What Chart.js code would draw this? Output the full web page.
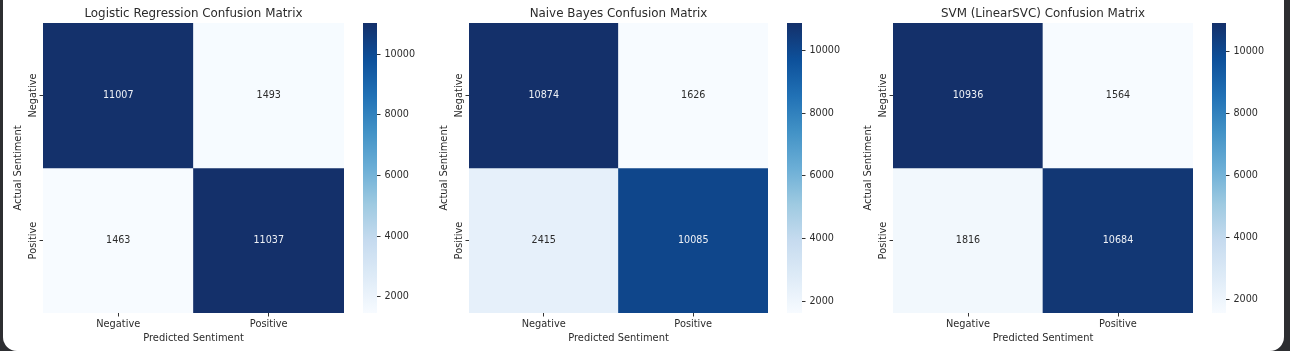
<!DOCTYPE html>
<html>
<head>
<meta charset="utf-8">
<script src="https://cdn.jsdelivr.net/npm/chart.js@4.4.1/dist/chart.umd.min.js"></script>
<style>
    html, body { margin: 0; padding: 0; width: 1290px; height: 351px; overflow: hidden; background: #2d2e31; }
    #card { position: absolute; left: 3px; top: -20px; width: 1281px; height: 371px; background: #fff; border-radius: 0 0 14px 14px; }
    canvas { position: absolute; top: 0; }
</style>
</head>
<body>
<div id="card"></div>
<canvas id="hm0" width="344" height="351" style="left:0px"></canvas>
<canvas id="cb0" width="60" height="351" style="left:363px"></canvas>
<canvas id="hm1" width="342" height="351" style="left:426px"></canvas>
<canvas id="cb1" width="60" height="351" style="left:787px"></canvas>
<canvas id="hm2" width="343" height="351" style="left:850px"></canvas>
<canvas id="cb2" width="60" height="351" style="left:1212px"></canvas>
<script>
// data
const labels = ['Negative', 'Positive'];
const titles = ['Logistic Regression Confusion Matrix', 'Naive Bayes Confusion Matrix', 'SVM (LinearSVC) Confusion Matrix'];
const lrMatrix = [[11007, 1493], [1463, 11037]];
const nbMatrix = [[10874, 1626], [2415, 10085]];
const svmMatrix = [[10936, 1564], [1816, 10684]];
const colorbarTicks = [2000, 4000, 6000, 8000, 10000];

const matrices = [lrMatrix, nbMatrix, svmMatrix];
const cbWidths = [14, 15, 14]; // colorbar strip width per panel

const FONT = '"DejaVu Sans", sans-serif';
const TEXT = '#2b2b2b';

// matplotlib "Blues" (dark end nudged to the screenshot's tone)
const bluesStops = ['#f7fbff', '#deebf7', '#c6dbef', '#9ecae1', '#6baed6', '#4292c6', '#2171b5', '#0d509a', '#14306a'];

function hexToRgb(h) {
    return [parseInt(h.slice(1, 3), 16), parseInt(h.slice(3, 5), 16), parseInt(h.slice(5, 7), 16)];
}

function blues(t) {
    t = Math.max(0, Math.min(1, t));
    const pos = t * (bluesStops.length - 1);
    const i = Math.min(Math.floor(pos), bluesStops.length - 2);
    const f = pos - i;
    const a = hexToRgb(bluesStops[i]), b = hexToRgb(bluesStops[i + 1]);
    const c = a.map((v, k) => Math.round(v + (b[k] - v) * f));
    return `rgb(${c[0]}, ${c[1]}, ${c[2]})`;
}

// annotations, title and rotated y tick labels
const heatText = {
    id: 'heatText',
    afterDraw(chart, args, opts) {
        const { ctx, chartArea, scales } = chart;
        ctx.save();
        ctx.textAlign = 'center';
        ctx.textBaseline = 'middle';
        ctx.font = '9.6px ' + FONT;
        chart.data.datasets.forEach((ds, r) => {
            chart.getDatasetMeta(r).data.forEach((bar, c) => {
                ctx.fillStyle = ds.textColors[c];
                ctx.fillText(String(ds.counts[c]), bar.x, (bar.y + bar.base) / 2);
            });
        });

        ctx.fillStyle = TEXT;
        ctx.font = '9.8px ' + FONT;
        labels.forEach((lab, i) => {
            const y = scales.y.getPixelForValue(i + 0.5);
            ctx.save();
            ctx.translate(chartArea.left - 10, y);
            ctx.rotate(-Math.PI / 2);
            ctx.fillText(lab, 0, 0);
            ctx.restore();
        });

        ctx.font = '11.9px ' + FONT;
        ctx.fillText(opts.title, (chartArea.left + chartArea.right) / 2, 13.5);
        ctx.restore();
    }
};

matrices.forEach((m, p) => {
    const flat = m.flat();
    const vmin = Math.min(...flat);
    const vmax = Math.max(...flat);
    const norm = v => (v - vmin) / (vmax - vmin);

    // heatmap: one floating-bar dataset per actual row
    const datasets = m.map((row, r) => ({
        data: labels.map(() => [r, r + 1]),
        counts: row,
        backgroundColor: row.map(v => blues(norm(v))),
        textColors: row.map(v => norm(v) > 0.5 ? '#eef1f6' : TEXT),
        borderWidth: 0,
        borderSkipped: false,
        categoryPercentage: 1,
        barPercentage: 1
    }));

    new Chart(document.getElementById('hm' + p), {
        type: 'bar',
        data: { labels: labels, datasets: datasets },
        plugins: [heatText],
        options: {
            responsive: false,
            animation: false,
            layout: { padding: { top: 23, left: 0, right: 0, bottom: 0 } },
            plugins: {
                legend: { display: false },
                tooltip: { enabled: false },
                heatText: { title: titles[p] }
            },
            scales: {
                x: {
                    stacked: true,
                    ticks: { color: TEXT, font: { family: FONT, size: 9.8 }, padding: 2 },
                    grid: { offset: false, drawOnChartArea: false, tickLength: 3.5, color: '#333' },
                    border: { display: false },
                    title: { display: true, text: 'Predicted Sentiment', color: TEXT, font: { family: FONT, size: 9.9 }, padding: { top: 0, bottom: 7 } },
                    afterFit: s => { s.height = 38; }
                },
                y: {
                    min: 0,
                    max: 2,
                    reverse: true,
                    afterBuildTicks: s => { s.ticks = labels.map((l, i) => ({ value: i + 0.5 })); },
                    ticks: { display: false },
                    grid: { drawOnChartArea: false, tickLength: 3.5, color: '#333' },
                    border: { display: false },
                    title: { display: true, text: 'Actual Sentiment', color: TEXT, font: { family: FONT, size: 9.9 }, padding: { top: 12, bottom: 0 } },
                    afterFit: s => { s.width = 43; }
                }
            }
        }
    });

    // colorbar
    new Chart(document.getElementById('cb' + p), {
        type: 'bar',
        data: {
            labels: [''],
            datasets: [{
                data: [[vmin, vmax]],
                backgroundColor: ctx => {
                    const area = ctx.chart.chartArea;
                    if (!area) return bluesStops[0];
                    const g = ctx.chart.ctx.createLinearGradient(0, area.bottom, 0, area.top);
                    bluesStops.forEach((c, i) => g.addColorStop(i / (bluesStops.length - 1), c));
                    return g;
                },
                borderWidth: 0,
                borderSkipped: false,
                categoryPercentage: 1,
                barPercentage: 1
            }]
        },
        options: {
            responsive: false,
            animation: false,
            layout: { padding: { top: 23, bottom: 38, left: 0, right: 0 } },
            plugins: { legend: { display: false }, tooltip: { enabled: false } },
            scales: {
                x: { display: false },
                y: {
                    position: 'right',
                    min: vmin,
                    max: vmax,
                    afterBuildTicks: s => { s.ticks = colorbarTicks.map(v => ({ value: v })); },
                    ticks: { color: TEXT, font: { family: FONT, size: 9.6 }, padding: 4, callback: v => String(v) },
                    grid: { drawOnChartArea: false, tickLength: 3.5, color: '#333' },
                    border: { display: false },
                    afterFit: s => { s.width = 60 - cbWidths[p]; }
                }
            }
        }
    });
});
</script>
</body>
</html>
